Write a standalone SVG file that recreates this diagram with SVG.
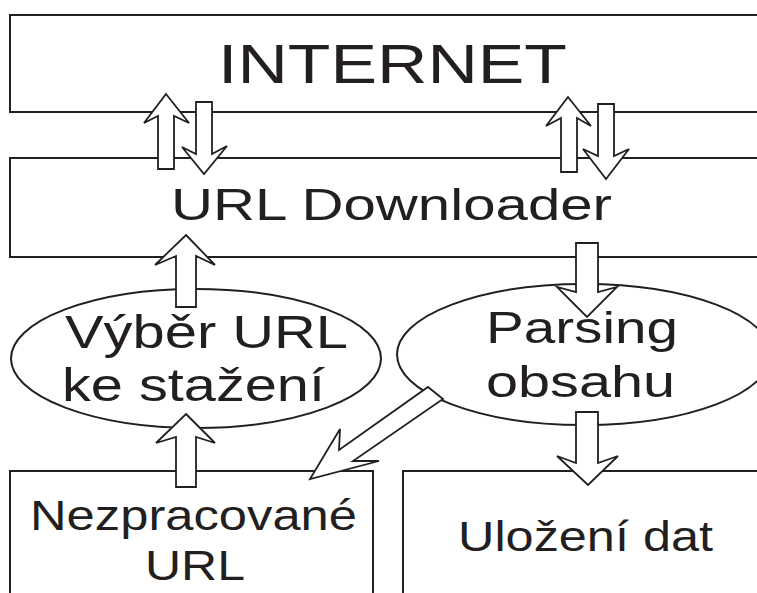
<svg xmlns="http://www.w3.org/2000/svg" width="757" height="593" viewBox="0 0 757 593">
  <style>
    .box { fill: #fff; stroke: #231f20; stroke-width: 2; }
    .arrow { fill: #fff; stroke: #231f20; stroke-width: 1.8; stroke-linejoin: miter; }
    text { font-family: "Liberation Sans", Arial, sans-serif; fill: #231f20; }
  </style>
  <rect width="757" height="593" fill="#fff"/>

  <g id="internet">
    <rect class="box" x="10" y="15" width="770" height="97"/>
    <text x="218" y="83" font-size="56" textLength="349" lengthAdjust="spacingAndGlyphs">INTERNET</text>
  </g>

  <g id="url-downloader">
    <rect class="box" x="10" y="158" width="770" height="99"/>
    <text x="171" y="220" font-size="44" textLength="441" lengthAdjust="spacingAndGlyphs">URL Downloader</text>
  </g>

  <g id="vyber-url">
    <ellipse class="box" cx="196" cy="358.5" rx="185" ry="69.5"/>
    <text x="65" y="348" font-size="46" textLength="283" lengthAdjust="spacingAndGlyphs">Výběr URL</text>
    <text x="62" y="401" font-size="46" textLength="263" lengthAdjust="spacingAndGlyphs">ke stažení</text>
  </g>

  <g id="parsing">
    <ellipse class="box" cx="584" cy="354.5" rx="187" ry="70.5"/>
    <text x="486" y="343" font-size="44" textLength="192" lengthAdjust="spacingAndGlyphs">Parsing</text>
    <text x="486" y="397" font-size="44" textLength="189" lengthAdjust="spacingAndGlyphs">obsahu</text>
  </g>

  <g id="nezpracovane-url">
    <rect class="box" x="10" y="471" width="363" height="200"/>
    <text x="30" y="530" font-size="42" textLength="327" lengthAdjust="spacingAndGlyphs">Nezpracované</text>
    <text x="145" y="580" font-size="42" textLength="100" lengthAdjust="spacingAndGlyphs">URL</text>
  </g>

  <g id="ulozeni-dat">
    <rect class="box" x="403" y="471" width="400" height="200"/>
    <text x="458" y="551" font-size="42" textLength="255" lengthAdjust="spacingAndGlyphs">Uložení dat</text>
  </g>

  <g id="connectors">
    <!-- URL Downloader <-> INTERNET, left pair -->
    <polygon class="arrow" points="166,94 189,123 174,116 174,169 158,169 158,116 144,123"/>
    <polygon class="arrow" points="196,102 212,102 212,154 227,146 204,174 182,147 196,154"/>
    <!-- URL Downloader <-> INTERNET, right pair -->
    <polygon class="arrow" points="568,97 591,126 577,118 577,172 561,172 561,118 546,126"/>
    <polygon class="arrow" points="598,104 614,104 614,156 629,149 606,179 583,149 598,156"/>
    <!-- Výběr URL -> URL Downloader -->
    <polygon class="arrow" points="186,235 215,265 196,256 196,307 176,307 176,256 155,265"/>
    <!-- URL Downloader -> Parsing -->
    <polygon class="arrow" points="576,243 598,243 598,292 617,287 587,317 557,287 576,292"/>
    <!-- Parsing -> Uložení dat -->
    <polygon class="arrow" points="576,412 598,412 598,463 618,456 588,485 557,456 576,463"/>
    <!-- Nezpracované URL -> Výběr URL -->
    <polygon class="arrow" points="186,414 215,443 196,437 196,487 176,487 176,437 156,443"/>
    <!-- Parsing -> Nezpracované URL -->
    <polygon class="arrow" points="428,387 443,399 353,461 379,461 310,479 340,429 339,450"/>
  </g>
</svg>
